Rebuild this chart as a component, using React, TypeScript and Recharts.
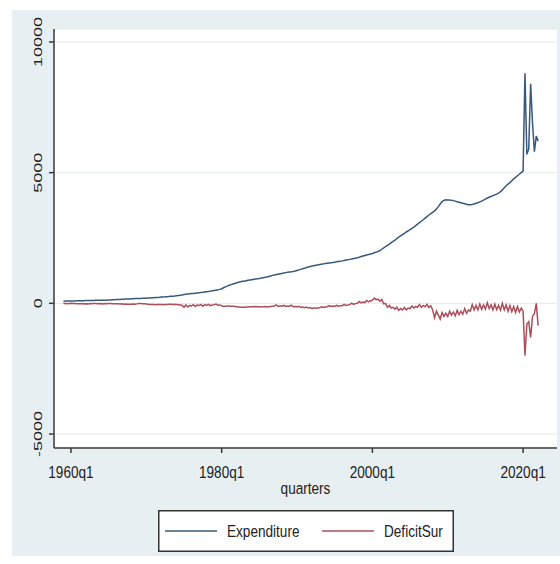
import React from 'react';
import { LineChart, Line, XAxis, YAxis, CartesianGrid, Legend } from 'recharts';

// Stata quarter index: 1960q1 = 0, first observation 1959q1 = -4
const START_Q = -4;

// one row per year, four quarters each (1959q1 .. 2022q1)
const expenditure = [
  85, 86, 88, 89,
  90, 91, 93, 95,
  97, 99, 101, 103,
  106, 108, 110, 112,
  113, 114, 116, 117,
  119, 120, 122, 123,
  125, 128, 133, 138,
  143, 148, 152, 157,
  161, 165, 168, 171,
  175, 178, 181, 183,
  185, 188, 191, 194,
  198, 203, 208, 213,
  218, 223, 228, 232,
  240, 246, 250, 256,
  262, 268, 274, 280,
  290, 300, 312, 322,
  335, 348, 358, 366,
  374, 380, 388, 396,
  405, 414, 424, 436,
  446, 456, 468, 480,
  492, 505, 518, 534,
  560, 595, 630, 660,
  690, 715, 740, 762,
  785, 805, 825, 845,
  850, 866, 880, 894,
  906, 918, 930, 942,
  952, 966, 980, 995,
  1010, 1030, 1050, 1070,
  1085, 1100, 1115, 1130,
  1145, 1160, 1175, 1190,
  1200, 1210, 1222, 1240,
  1260, 1280, 1300, 1320,
  1340, 1370, 1390, 1410,
  1425, 1440, 1455, 1470,
  1485, 1498, 1510, 1522,
  1532, 1542, 1552, 1562,
  1575, 1588, 1600, 1612,
  1625, 1640, 1655, 1668,
  1682, 1698, 1712, 1728,
  1745, 1765, 1790, 1810,
  1830, 1850, 1870, 1890,
  1910, 1935, 1960, 1985,
  2020, 2070, 2120, 2170,
  2220, 2270, 2320, 2370,
  2420, 2480, 2530, 2580,
  2630, 2680, 2730, 2775,
  2820, 2870, 2920, 2975,
  3030, 3085, 3140, 3200,
  3260, 3320, 3380, 3430,
  3480, 3540, 3610, 3700,
  3800, 3890, 3940, 3960,
  3950, 3955, 3940, 3930,
  3910, 3890, 3870, 3850,
  3830, 3810, 3790, 3775,
  3770, 3780, 3800, 3830,
  3850, 3880, 3910, 3950,
  3990, 4030, 4060, 4090,
  4120, 4150, 4180, 4220,
  4270, 4340, 4420, 4500,
  4560, 4620, 4690, 4760,
  4820, 4880, 4940, 5000,
  5060, 8800, 5700, 5900,
  8400, 6900, 5800, 6400,
  6200,
];

const deficitSur = [
  -10, -5, -15, -10,
  5, -5, -10, -15,
  -20, -15, -10, -20,
  -15, -20, -10, -15,
  -5, -10, -15, -10,
  -15, -20, -10, -15,
  -5, -10, -15, -20,
  -15, -20, -25, -20,
  -30, -25, -35, -30,
  -35, -25, -30, -20,
  -10, -5, -15, -20,
  -25, -35, -40, -45,
  -45, -50, -40, -45,
  -40, -50, -45, -40,
  -35, -30, -40, -35,
  -40, -50, -60, -70,
  -150, -60, -140, -80,
  -100, -50, -120, -60,
  -90, -40, -110, -50,
  -80, -40, -90, -60,
  -50, -30, -70, -60,
  -90, -120, -110, -100,
  -100, -110, -110, -120,
  -130, -140, -150, -150,
  -150, -140, -140, -130,
  -130, -130, -125, -130,
  -130, -135, -130, -125,
  -140, -130, -120, -110,
  -100, -60, -120, -90,
  -110, -80, -120, -100,
  -110, -70, -130, -120,
  -140, -110, -160, -140,
  -170, -140, -180, -160,
  -200, -170, -190, -180,
  -170, -130, -160, -140,
  -130, -90, -120, -100,
  -120, -80, -110, -90,
  -90, -40, -80, -60,
  -50, 10, -40, -10,
  0, 70, 20, 50,
  30, 110, 60, 100,
  120, 200, 140, 160,
  80, 150, -20, 0,
  -150, -80, -180, -150,
  -220, -150, -270, -200,
  -250, -160, -250, -180,
  -200, -100, -180, -120,
  -150, -50, -150, -80,
  -130, -40, -160, -90,
  -250, -550, -300, -450,
  -600, -350, -500, -380,
  -500, -300, -450, -330,
  -480, -270, -430, -300,
  -420, -200, -380, -250,
  -300, -50, -250, -80,
  -250, -30, -230, -60,
  -220, 20, -200, -60,
  -250, -30, -240, -80,
  -260, 0, -250, -60,
  -300, -80, -320, -120,
  -350, -120, -330, -180,
  -300, -2000, -800, -700,
  -1300, -500, -400, 0,
  -850,
];

const seriesNames = ['Expenditure', 'DeficitSur'];
const xTicks = [0, 80, 160, 240];
const xTickLabels = ['1960q1', '1980q1', '2000q1', '2020q1'];
const yTicks = [-5000, 0, 5000, 10000];

const data = expenditure.map((v, i) => ({
  q: START_Q + i,
  Expenditure: v,
  DeficitSur: deficitSur[i],
}));

const FONT = '"Liberation Sans", Arial, sans-serif';
const AXIS = '#3a3a3a';
const BLUE = '#3a5879';
const RED = '#ad4f5b';

// text in the reference is squeezed horizontally, so scale it a bit
const XTick = (props: any) => {
  const { x, y, payload } = props;
  const idx = xTicks.indexOf(payload.value);
  return (
    <g transform={`translate(${x},${y + 23}) scale(0.8,1)`}>
      <text textAnchor="middle" fontSize={17} fontFamily={FONT} fill="#222">
        {xTickLabels[idx]}
      </text>
    </g>
  );
};

const YTick = (props: any) => {
  const { x, y, payload } = props;
  return (
    <g transform={`translate(${x - 5},${y}) scale(0.65,1) rotate(-90)`}>
      <text textAnchor="middle" fontSize={18} fontFamily={FONT} fill="#222">
        {payload.value}
      </text>
    </g>
  );
};

const XTitle = (props: any) => {
  const vb = props.viewBox || { x: 54, y: 448, width: 503 };
  return (
    <g transform={`translate(${vb.x + vb.width / 2},${vb.y + 46}) scale(0.8,1)`}>
      <text textAnchor="middle" fontSize={17} fontFamily={FONT} fill="#222">
        quarters
      </text>
    </g>
  );
};

const LegendBox = (props: any) => {
  const items = [...(props.payload || [])].sort(
    (a: any, b: any) => seriesNames.indexOf(a.value) - seriesNames.indexOf(b.value)
  );
  return (
    <svg width={296} height={42} style={{ display: 'block' }}>
      <rect x={0.75} y={0.75} width={294.5} height={40.5} fill="#fff" stroke="#333" strokeWidth={1.5} />
      {items.map((it: any, i: number) => {
        const x0 = i === 0 ? 7 : 164;
        return (
          <g key={it.value}>
            <line x1={x0} x2={x0 + 52} y1={21} y2={21} stroke={it.color} strokeWidth={1.5} />
            <g transform={`translate(${x0 + 62},27) scale(0.8,1)`}>
              <text fontSize={17} fontFamily={FONT} fill="#222">{it.value}</text>
            </g>
          </g>
        );
      })}
    </svg>
  );
};

export default function App() {
  return (
    <div style={{ position: 'relative', width: 560, height: 564, background: '#fff' }}>
      <style>{'body{margin:0}'}</style>
      <div style={{ position: 'absolute', left: 12, top: 10, width: 548, height: 546, background: '#e8eff2' }} />
      <div style={{ position: 'absolute', left: 0, top: 0 }}>
        <LineChart width={560} height={564} data={data} margin={{ top: 29, right: 3, bottom: 86, left: 14 }}>
          <CartesianGrid horizontal vertical={false} fill="#ffffff" stroke="#e3e9ed" strokeWidth={1} />
          <XAxis
            dataKey="q"
            type="number"
            domain={[-9, 258]}
            ticks={xTicks}
            height={30}
            stroke={AXIS}
            strokeWidth={1.5}
            tickSize={5}
            tick={<XTick />}
            label={<XTitle />}
            allowDataOverflow
          />
          <YAxis
            type="number"
            domain={[-5534, 10496]}
            ticks={yTicks}
            width={40}
            stroke={AXIS}
            strokeWidth={1.5}
            tickSize={5}
            tick={<YTick />}
            allowDataOverflow
          />
          <Legend
            layout="horizontal"
            verticalAlign="middle"
            align="center"
            content={<LegendBox />}
            wrapperStyle={{ position: 'absolute', left: 158, top: 510, width: 296, height: 42 }}
          />
          <Line type="linear" dataKey="Expenditure" stroke={BLUE} strokeWidth={1.5} dot={false} isAnimationActive={false} />
          <Line type="linear" dataKey="DeficitSur" stroke={RED} strokeWidth={1.5} dot={false} isAnimationActive={false} />
        </LineChart>
      </div>
    </div>
  );
}
